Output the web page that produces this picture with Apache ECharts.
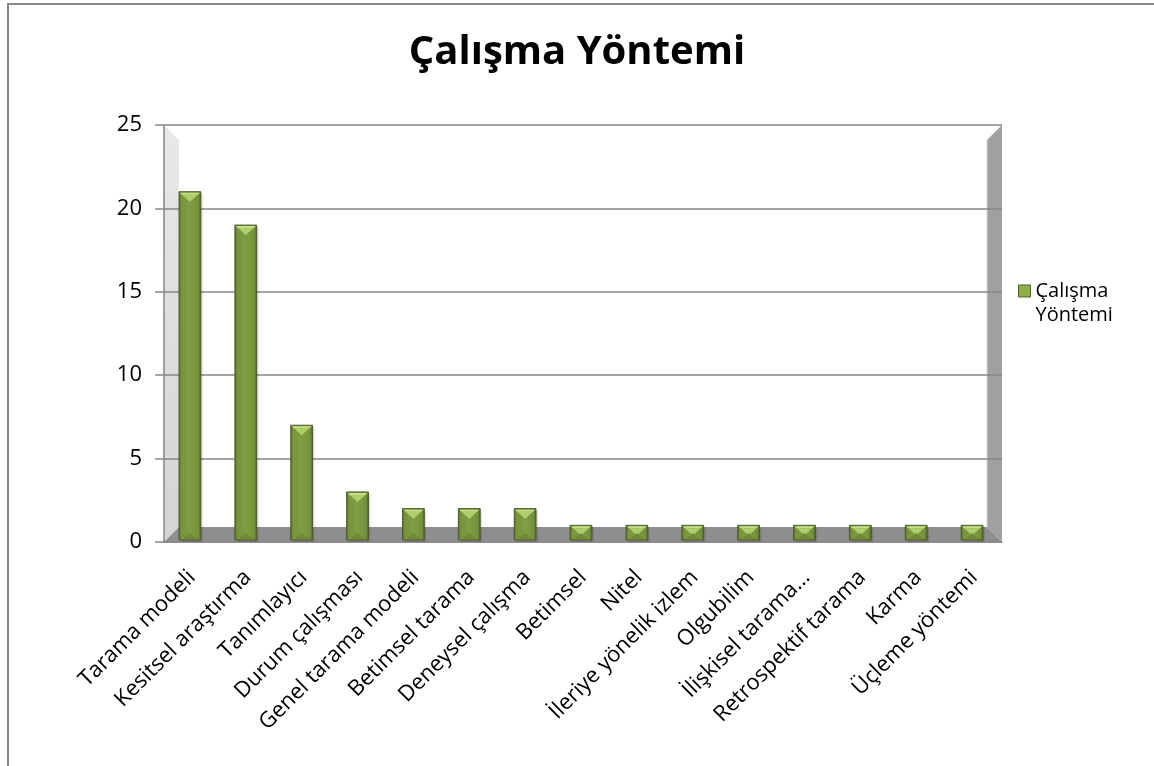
<!DOCTYPE html>
<html>
<head>
<meta charset="utf-8">
<script src="https://cdn.jsdelivr.net/npm/echarts@6/dist/echarts.min.js"></script>
<style>
  html, body { margin: 0; padding: 0; background: #fff; }
  #chart { width: 1154px; height: 766px; }
</style>
</head>
<body>
<div id="chart"></div>
<script>
// kategori ve değerler
const categories = [
  'Tarama modeli', 'Kesitsel araştırma', 'Tanımlayıcı', 'Durum çalışması',
  'Genel tarama modeli', 'Betimsel tarama', 'Deneysel çalışma', 'Betimsel',
  'Nitel', 'İleriye yönelik izlem', 'Olgubilim', 'İlişkisel tarama…',
  'Retrospektif tarama', 'Karma', 'Üçleme yöntemi'
];
const values = [21, 19, 7, 3, 2, 2, 2, 1, 1, 1, 1, 1, 1, 1, 1];
const seriesName = 'Çalışma Yöntemi';
const yMin = 0, yMax = 25, yStep = 5;

const FONT = '"Open Sans", "Noto Sans", sans-serif';

// plot kutusu (piksel)
const G = { left: 164, top: 125, right: 1002, bottom: 542 };
const D = 15; // 3B derinlik

const chart = echarts.init(document.getElementById('chart'));

const barGrad = new echarts.graphic.LinearGradient(0, 0, 1, 0, [
  { offset: 0, color: '#536a2a' },
  { offset: 0.12, color: '#78933c' },
  { offset: 0.5, color: '#829e44' },
  { offset: 0.88, color: '#74903a' },
  { offset: 1, color: '#485b23' }
]);

function renderBar(params, api) {
  const idx = api.value(0);
  const top = api.coord([idx, api.value(1)]);
  const base = api.coord([idx, 0]);
  const band = api.size([1, 0])[0];
  const w = band * 0.39;
  const cx = top[0] - 2;
  const x0 = cx - w / 2, x1 = cx + w / 2;
  const y0 = top[1], y1 = base[1] - 2;
  return {
    type: 'group',
    children: [
      { type: 'rect', shape: { x: x0 + 2, y: y0 + 2, width: w, height: y1 - y0 },
        style: { fill: 'rgba(0,0,0,0.12)' } },
      { type: 'rect', shape: { x: x0, y: y0, width: w, height: y1 - y0 },
        style: { fill: barGrad, stroke: '#4a5c25', lineWidth: 1 } },
      { type: 'polygon', shape: { points: [[x0 + 1, y0 + 1], [x1 - 1, y0 + 1], [x1 - 3, y0 + 3], [x0 + 3, y0 + 3]] },
        style: { fill: '#c6e08a' } },
      { type: 'polygon', shape: { points: [[x0 + 3, y0 + 3], [x1 - 3, y0 + 3], [cx, y0 + 10]] },
        style: { fill: '#add06a' } },
      { type: 'polygon', shape: { points: [[x0 + 4, y1 - 1], [x1 - 4, y1 - 1], [cx, y1 - 7]] },
        style: { fill: '#6f8a37' } }
    ]
  };
}

const option = {
  backgroundColor: '#fff',
  animation: false,
  title: {
    text: 'Çalışma Yöntemi',
    left: 'center',
    top: 28,
    textStyle: { fontFamily: FONT, fontSize: 40, fontWeight: 'bold', color: '#000' }
  },
  legend: {
    left: 1018,
    top: 257,
    padding: 0,
    itemWidth: 12,
    itemHeight: 12,
    formatter: () => '{e| }\n{t|Çalışma}\n{t|Yöntemi}',
    textStyle: {
      fontFamily: FONT, fontSize: 20, color: '#000',
      rich: {
        e: { lineHeight: 24, fontSize: 20 },
        t: { lineHeight: 24, fontSize: 20, fontFamily: FONT, color: '#000' }
      }
    },
    data: [{ name: seriesName, icon: 'rect', itemStyle: { color: '#8fae4c', borderColor: '#4f6228', borderWidth: 1 } }]
  },
  grid: { left: G.left, top: G.top, right: 1154 - G.right, bottom: 766 - G.bottom },
  graphic: [
    { type: 'rect', z: -20, shape: { x: 8, y: 4, width: 1160, height: 780 },
      style: { fill: '#fff', stroke: '#878787', lineWidth: 2 } },
    // sol duvar
    { type: 'polygon', z: -10, shape: { points: [[G.left, G.top], [G.left + D, G.top + D], [G.left + D, G.bottom - D], [G.left, G.bottom]] },
      style: { fill: new echarts.graphic.LinearGradient(0, 0, 0, 1, [
        { offset: 0, color: '#e8e8e8' }, { offset: 1, color: '#d4d4d4' }]) } },
    // sağ duvar
    { type: 'polygon', z: -10, shape: { points: [[G.right - D, G.top + D], [G.right, G.top], [G.right, G.bottom], [G.right - D, G.bottom - D]] },
      style: { fill: '#a0a0a0' } },
    // zemin
    { type: 'polygon', z: -10, shape: { points: [[G.left, G.bottom], [G.left + D, G.bottom - D], [G.right - D, G.bottom - D], [G.right, G.bottom]] },
      style: { fill: '#8e8e8e' } },
    { type: 'line', z: -9, shape: { x1: G.right - D, y1: G.top + D, x2: G.right - D, y2: G.bottom - D },
      style: { stroke: '#d8d8d8', lineWidth: 1 } }
  ],
  xAxis: {
    type: 'category',
    data: categories,
    axisLine: { lineStyle: { color: '#868686', width: 1.5 } },
    axisTick: { length: 7, lineStyle: { color: '#868686', width: 1.5 } },
    axisLabel: { rotate: 45, margin: 32, fontFamily: FONT, fontSize: 22, color: '#000', interval: 0 }
  },
  yAxis: {
    type: 'value',
    min: yMin, max: yMax, interval: yStep,
    axisLine: { show: true, lineStyle: { color: '#868686', width: 1.5 } },
    axisTick: { show: true, inside: false, length: 9, lineStyle: { color: '#868686', width: 1.5 } },
    splitLine: { lineStyle: { color: '#868686', width: 1.5 } },
    axisLabel: { margin: 22, fontFamily: FONT, fontSize: 22, color: '#000' }
  },
  series: [{
    name: seriesName,
    type: 'custom',
    renderItem: renderBar,
    encode: { x: 0, y: 1 },
    data: values.map((v, i) => [i, v]),
    z: 5
  }]
};

chart.setOption(option);
</script>
</body>
</html>
